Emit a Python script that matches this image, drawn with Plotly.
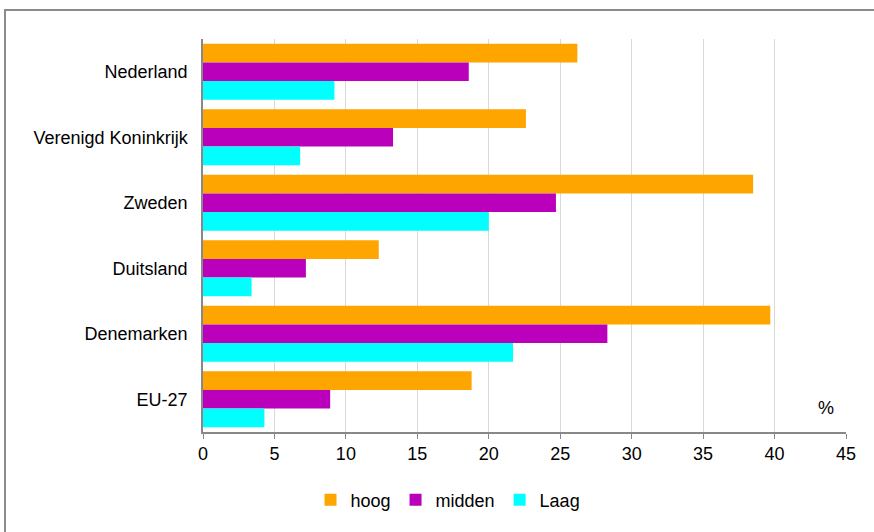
import plotly.graph_objects as go

categories = ["Nederland", "Verenigd Koninkrijk", "Zweden", "Duitsland", "Denemarken", "EU-27"]
hoog = [26.2, 22.6, 38.5, 12.3, 39.7, 18.8]
midden = [18.6, 13.3, 24.7, 7.2, 28.3, 8.9]
laag = [9.2, 6.8, 20.0, 3.4, 21.7, 4.3]
series_names = ["hoog", "midden", "Laag"]
colors = ["#FFA500", "#BB00BB", "#00FFFF"]
x_ticks = [0, 5, 10, 15, 20, 25, 30, 35, 40, 45]

fig = go.Figure()
for name, vals, col in zip(series_names, [hoog, midden, laag], colors):
    fig.add_trace(go.Bar(y=categories, x=vals, name=name, orientation="h",
                         marker=dict(color=col, line=dict(width=0))))

font_family = "Liberation Sans, Arial, sans-serif"
top, bottom = 39, 432
ph = bottom - top
fig.update_layout(
    width=874, height=532,
    margin=dict(l=203, r=28, t=top, b=532 - bottom),
    paper_bgcolor="white", plot_bgcolor="white",
    barmode="group", bargap=0.143, bargroupgap=0,
    font=dict(family=font_family, size=18, color="#000000"),
    legend=dict(orientation="h", x=(448 - 203) / 643, xanchor="center",
                y=-(500 - bottom) / ph, yanchor="middle",
                font=dict(size=18), itemwidth=30, traceorder="normal"),
    xaxis=dict(range=[0, 45], tickvals=x_ticks, showgrid=True, gridcolor="#D9D9D9", gridwidth=1,
               showline=True, linecolor="#888888", linewidth=1.5, ticks="outside", ticklen=5,
               tickcolor="#888888", zeroline=False, tickfont=dict(size=18)),
    yaxis=dict(categoryorder="array", categoryarray=categories, autorange="reversed",
               showline=True, linecolor="#888888", linewidth=1.5, ticks="", showgrid=False,
               tickfont=dict(size=18), ticksuffix="  "),
    shapes=[dict(type="rect", xref="paper", yref="paper",
                 x0=(5 - 203) / 643, x1=(880 - 203) / 643,
                 y0=-(540 - bottom) / ph, y1=(bottom - 10) / ph,
                 line=dict(color="#8C8C8C", width=2), layer="below")],
    annotations=[dict(text="%", xref="paper", yref="paper", x=(826 - 203) / 643,
                      y=-(408 - bottom) / ph, showarrow=False, font=dict(size=18),
                      xanchor="center", yanchor="middle")],
)

fig.write_html("out.html")
